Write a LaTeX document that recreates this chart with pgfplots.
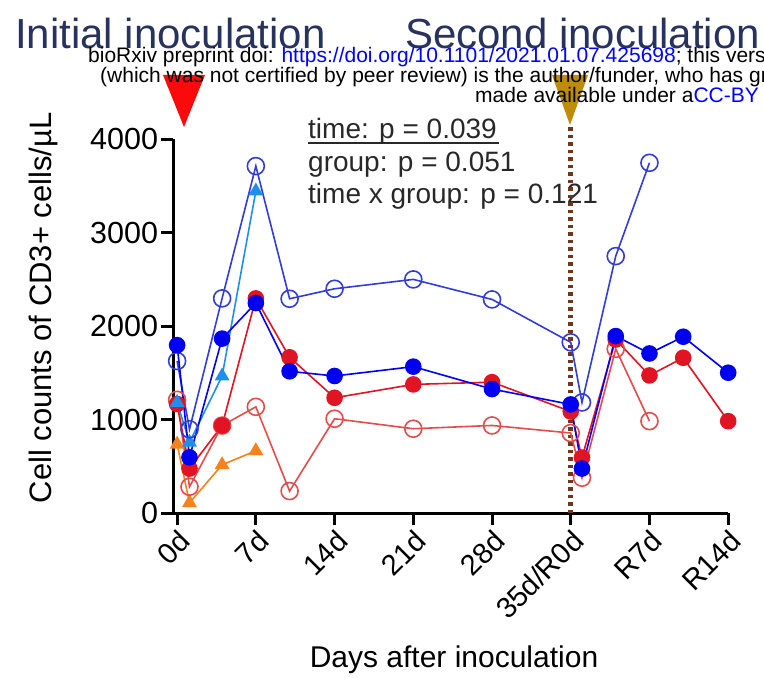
\documentclass[border=0pt]{standalone}
\usepackage{pgfplots}
\pgfplotsset{compat=1.18}
\usepackage{fontspec}
\setmainfont{Liberation Sans}
\definecolor{dblue}{RGB}{0,0,240}
\definecolor{oblue}{RGB}{50,60,215}
\definecolor{lblue}{RGB}{30,144,235}
\definecolor{fred}{RGB}{225,20,35}
\definecolor{ored}{RGB}{228,75,75}
\definecolor{orng}{RGB}{245,130,30}
\definecolor{navy}{RGB}{40,50,95}
\definecolor{dotbrown}{RGB}{110,55,25}
\definecolor{gold}{RGB}{190,140,10}
\definecolor{trired}{RGB}{250,10,10}
\definecolor{ptext}{RGB}{40,40,40}
\definecolor{linkblue}{RGB}{0,0,255}
\begin{document}
\begin{tikzpicture}[x=1pt,y=1pt]
\useasboundingbox (0,0) rectangle (764,678);
\clip (0,0) rectangle (764,678);
% inoculation markers
\fill[trired] (163,603) -- (205,603) -- (184,551) -- cycle;
\fill[gold] (552,603) -- (588,603) -- (570,553) -- cycle;
% titles
\node[anchor=base west, inner sep=0, text=navy, font=\fontsize{42}{44}\selectfont] at (15,629) {Initial inoculation};
\node[anchor=base west, inner sep=0, text=navy, font=\fontsize{42}{44}\selectfont] at (405,629) {Second inoculation};
% watermark
\node[anchor=base west, inner sep=0, font=\fontsize{21}{23}\selectfont] at (88,615) {bioRxiv preprint doi: \textcolor{linkblue}{https://doi.org/10.1101/2021.01.07.425698}; this version posted January 8, 2021.};
\node[anchor=base west, inner sep=0, font=\fontsize{21}{23}\selectfont] at (100,595) {(which was not certified by peer review) is the author/funder, who has granted bioRxiv a license};
\node[anchor=base west, inner sep=0, font=\fontsize{21}{23}\selectfont] at (475,575) {made available under a\textcolor{linkblue}{CC-BY 4.0 International license}.};
% statistics
\node[anchor=base west, inner sep=0, text=ptext, font=\fontsize{28}{30}\selectfont] at (308,539) {time: p = 0.039};
\draw[ptext, line width=2pt] (308,535) -- (499,535);
\node[anchor=base west, inner sep=0, text=ptext, font=\fontsize{28}{30}\selectfont] at (308,506) {group: p = 0.051};
\node[anchor=base west, inner sep=0, text=ptext, font=\fontsize{28}{30}\selectfont] at (308,474) {time x group: p = 0.121};
\begin{axis}[
  at={(154,176)}, anchor=south west,
  scale only axis, width=555pt, height=374pt,
  xmin=-0.35, xmax=49, ymin=0, ymax=4000,
  clip=false,
  axis x line*=bottom, axis y line*=left,
  axis line style={line width=3pt, black},
  every tick/.style={line width=3pt, black},
  tick align=outside, major tick length=12pt,
  xtick={0,7,14,21,28,35,42,49},
  xticklabels={0d,7d,14d,21d,28d,35d/R0d,R7d,R14d},
  ytick={0,1000,2000,3000,4000},
  yticklabels={0,1000,2000,3000,4000},
  x tick label style={rotate=45, anchor=north east, font=\fontsize{29}{30}\selectfont, inner sep=2pt},
  y tick label style={font=\fontsize{30.5}{32}\selectfont, inner sep=3pt},
  xlabel={Days after inoculation},
  ylabel={Cell counts of CD3+ cells/µL},
  xlabel style={at={(axis description cs:0.506,-0.39)}, anchor=center, font=\fontsize{30}{32}\selectfont},
  ylabel style={at={(axis description cs:-0.233,0.55)}, anchor=center, font=\fontsize{31}{32}\selectfont},
]
\draw[dotbrown, line width=4.5pt, dash pattern=on 3.5pt off 4pt] (axis cs:35,0) -- (axis cs:35,4160);
% orange triangles
\addplot[orng, line width=1.6pt, mark=triangle*, mark size=7pt, mark options={fill=orng}] coordinates {
(0,740) (1.1,114) (4,520) (7,670)};
% red open circles
\addplot[ored, line width=1.6pt, mark=o, mark size=8.5pt, mark options={line width=1.6pt}] coordinates {
(0,1215) (1.1,285) (4,940) (7,1140) (10,239) (14,1013) (21,906) (28,941) (35,860) (36,382) (39,1760) (42,987)};
% red filled circles
\addplot[fred, line width=1.6pt, mark=*, mark size=7.5pt, mark options={fill=fred}] coordinates {
(0,1170) (1.1,480) (4,940) (7,2300) (10,1670) (14,1237) (21,1380) (28,1404) (35,1090) (36,598) (39,1860) (42,1476) (45,1665) (49,987)};
% light blue triangles
\addplot[lblue, line width=1.6pt, mark=triangle*, mark size=7pt, mark options={fill=lblue}] coordinates {
(0,1187) (1.1,760) (4,1469) (7,3447)};
% blue open circles
\addplot[oblue, line width=1.6pt, mark=o, mark size=8.5pt, mark options={line width=1.6pt}] coordinates {
(0,1630) (1.1,900) (4,2300) (7,3715) (10,2296) (14,2403) (21,2503) (28,2289) (35,1830) (36,1187) (39,2752) (42,3750)};
% dark blue filled circles
\addplot[dblue, line width=1.6pt, mark=*, mark size=7.5pt, mark options={fill=dblue}] coordinates {
(0,1800) (1.1,600) (4,1870) (7,2250) (10,1520) (14,1470) (21,1570) (28,1330) (35,1166) (36,480) (39,1897) (42,1711) (45,1890) (49,1505)};
\end{axis}
\end{tikzpicture}
\end{document}
